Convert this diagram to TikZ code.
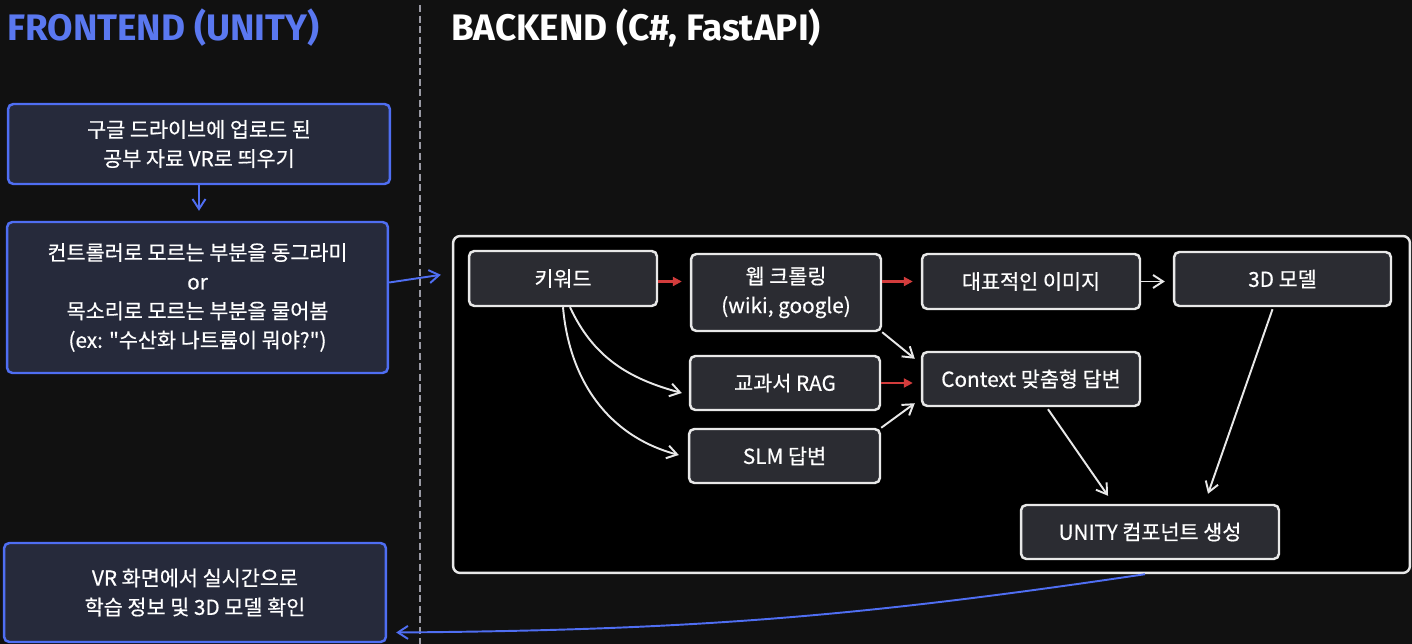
\documentclass[tikz,border=0pt]{standalone}
\usepackage{fontspec}
\setmainfont{Noto Sans CJK KR}[Ligatures=TeXOff, FakeBold=0.5]
\newfontfamily\headfont{Fira Sans}
\usetikzlibrary{arrows.meta,calc}
\definecolor{bgdark}{HTML}{111111}
\definecolor{feblue}{HTML}{4F6EF2}
\definecolor{fefill}{HTML}{262A3B}
\definecolor{befill}{HTML}{2B2C32}
\definecolor{boxline}{HTML}{E8E8E8}
\definecolor{arrred}{HTML}{D23C3C}
\definecolor{headblue}{HTML}{5A78F0}
\definecolor{divgray}{HTML}{9A9AA4}
\begin{document}
\begin{tikzpicture}[x=0.02cm, y=0.02cm,
    fe/.style={draw=feblue, fill=fefill, line width=1.4pt, rounded corners=3pt,
      text=white, align=center, font=\fontsize{11.8}{16.6}\selectfont},
    be/.style={draw=boxline, fill=befill, line width=1.4pt, rounded corners=3pt,
      text=white, align=center, font=\fontsize{11.8}{16.6}\selectfont},
    head/.style={inner sep=0pt, font=\headfont\bfseries\fontsize{21}{23}\selectfont},
    arr/.style={-{Straight Barb[length=0.2cm, width=0.26cm]}, draw=boxline, line width=1.1pt},
    redarr/.style={-{Triangle[length=0.18cm, width=0.18cm]}, draw=arrred, line width=1.2pt},
    bluearr/.style={-{Straight Barb[length=0.2cm, width=0.26cm]}, draw=feblue, line width=1.1pt},
    tipgap/.style={shorten >=0.16cm}]
    % 배경
    \fill[bgdark] (0,0) rectangle (1412,-644);
    \useasboundingbox (0,0) rectangle (1412,-644);
    % 구분선
    \draw[divgray, line width=1.1pt, dash pattern=on 4pt off 2pt] (420,-5) -- (420,-644);
    % 제목
    \node[head, text=headblue, anchor=west] (fehead) at (7,-28) {FRONTEND (UNITY)};
    \node[head, text=white, anchor=west] (behead) at (451,-28) {BACKEND (C\#, FastAPI)};
    % 프론트엔드
    \node[fe, minimum width=7.64cm, minimum height=1.6cm] (upload) at (199,-144)
      {구글 드라이브에 업로드 된\\공부 자료 VR로 띄우기};
    \node[fe, minimum width=7.62cm, minimum height=3.02cm] (ask) at (197.5,-297.5)
      {컨트롤러로 모르는 부분을 동그라미\\or\\목소리로 모르는 부분을 물어봄\\(ex: "수산화 나트륨이 뭐야?")};
    \node[fe, minimum width=7.64cm, minimum height=1.98cm] (view) at (195,-592.5)
      {VR 화면에서 실시간으로\\학습 정보 및 3D 모델 확인};
    % 백엔드 영역
    \node[draw=boxline, fill=black, line width=1.4pt, rounded corners=4pt,
      minimum width=19.14cm, minimum height=6.74cm] (backend) at (931.5,-404.5) {};
    \node[be, minimum width=3.76cm, minimum height=1.1cm] (kw) at (563,-278.5) {키워드};
    \node[be, minimum width=3.8cm, minimum height=1.54cm] (web) at (786,-292.5) {웹 크롤링\\(wiki, google)};
    \node[be, minimum width=4.36cm, minimum height=1.1cm] (img) at (1031,-281.5) {대표적인 이미지};
    \node[be, minimum width=4.34cm, minimum height=1.08cm] (model) at (1282.5,-279) {3D 모델};
    \node[be, minimum width=3.8cm, minimum height=1.08cm] (rag) at (785,-383) {교과서 RAG};
    \node[be, minimum width=4.36cm, minimum height=1.08cm] (ctx) at (1031,-379) {Context 맞춤형 답변};
    \node[be, minimum width=3.82cm, minimum height=1.08cm] (slm) at (784.5,-456) {SLM 답변};
    \node[be, minimum width=5.16cm, minimum height=1.08cm] (unity) at (1150,-532) {UNITY 컴포넌트 생성};
    % 프론트엔드 <-> 백엔드
    \draw[bluearr, shorten >=0.2cm] (upload.south) -- (upload.south |- ask.north);
    \draw[bluearr] ($(ask.east)+(0,15)$) -- ($(backend.north west)+(-11,-40)$);
    \draw[bluearr] ($(backend.south)+(213.5,0)$) to[bend left=4] ($(view.east)+(9,-40)$);
    % 백엔드 흐름
    \draw[redarr, tipgap] ($(kw.east)+(0,-3)$) -- ($(kw.east -| web.west)+(0,-3)$);
    \draw[redarr, tipgap] (img.west -| web.east) -- (img.west);
    \draw[arr, tipgap] (img.east) -- (img.east -| model.west);
    \draw[redarr, tipgap] (rag.east) -- (rag.east -| ctx.west);
    \draw[arr] (web.south east) -- ($(ctx.north west)+(-6,-8)$);
    \draw[arr] (slm.north east) -- ($(ctx.south west)+(-6,4)$);
    \draw[arr] ($(kw.south)+(7,0)$) to[out=-65, in=165] ($(rag.west)+(-7,-10)$);
    \draw[arr] (kw.south) to[out=-85, in=165] ($(slm.west)+(-9,1)$);
    \draw[arr] ($(ctx.south)+(17,-2)$) -- ($(unity.north)+(-42,8)$);
    \draw[arr] ($(model.south)+(-10,-2)$) -- ($(unity.north)+(58,10)$);
\end{tikzpicture}
\end{document}
